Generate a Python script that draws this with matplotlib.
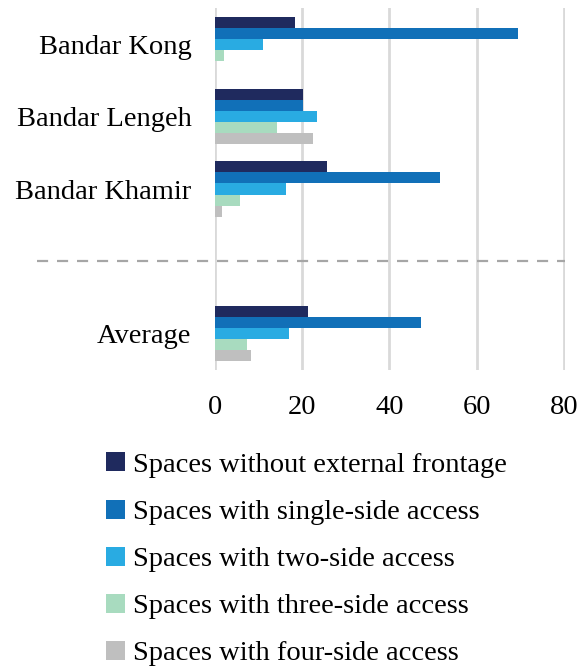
import numpy as np
import matplotlib.pyplot as plt

plt.rcParams['font.family'] = ['Liberation Serif', 'DejaVu Serif']

# Share of spaces (%) by frontage type for each port town
categories = ['Bandar Kong', 'Bandar Lengeh', 'Bandar Khamir', '', 'Average']
series_names = ['Spaces without external frontage',
                'Spaces with single-side access',
                'Spaces with two-side access',
                'Spaces with three-side access',
                'Spaces with four-side access']
without_frontage = [18.3, 20.3, 25.6, 0, 21.4]
single_side = [69.6, 20.3, 51.7, 0, 47.3]
two_side = [11.1, 23.3, 16.2, 0, 17.0]
three_side = [2.1, 14.3, 5.7, 0, 7.3]
four_side = [0.0, 22.5, 1.6, 0, 8.2]
x_ticks = [0, 20, 40, 60, 80]

series = [without_frontage, single_side, two_side, three_side, four_side]
colors = ['#1f2a5e', '#1170b8', '#29abe2', '#a8dbbf', '#bfbfbf']

W, H = 583, 670
fig = plt.figure(figsize=(W / 100, H / 100), dpi=100)
ax = fig.add_axes([215 / W, 1 - 370 / H, 350 / W, 362 / H])

bar_h = 0.152
y = np.arange(len(categories))
for i, (vals, c) in enumerate(zip(series, colors)):
    offs = (i - 2) * bar_h
    ax.barh(y + offs, vals, height=bar_h, color=c, label=series_names[i],
            zorder=3)

ax.set_ylim(len(categories) - 0.5, -0.5)
ax.set_xlim(0, 80.3)
ax.set_xticks(x_ticks)
ax.set_yticks(y)
ax.set_yticklabels(categories)
ax.tick_params(axis='both', length=0, labelsize=20.5)
ax.tick_params(axis='y', pad=17)
ax.tick_params(axis='x', pad=18)
for s in ax.spines.values():
    s.set_visible(False)
ax.grid(axis='x', color='#d9d9d9', lw=2, zorder=0)

# separator between the towns and the average
ax.axhline(3, xmin=-0.51, xmax=1.0, color='#a6a6a6', lw=1.6,
           ls=(0, (5, 4)), clip_on=False, zorder=2)

fig.legend(loc='upper left', bbox_to_anchor=(95 / W, 1 - 441 / H),
           frameon=False, fontsize=20.5, labelspacing=0.76,
           handlelength=0.65, handleheight=0.65, handletextpad=0.3,
           borderaxespad=0)

fig.savefig('out.png', dpi=100)
